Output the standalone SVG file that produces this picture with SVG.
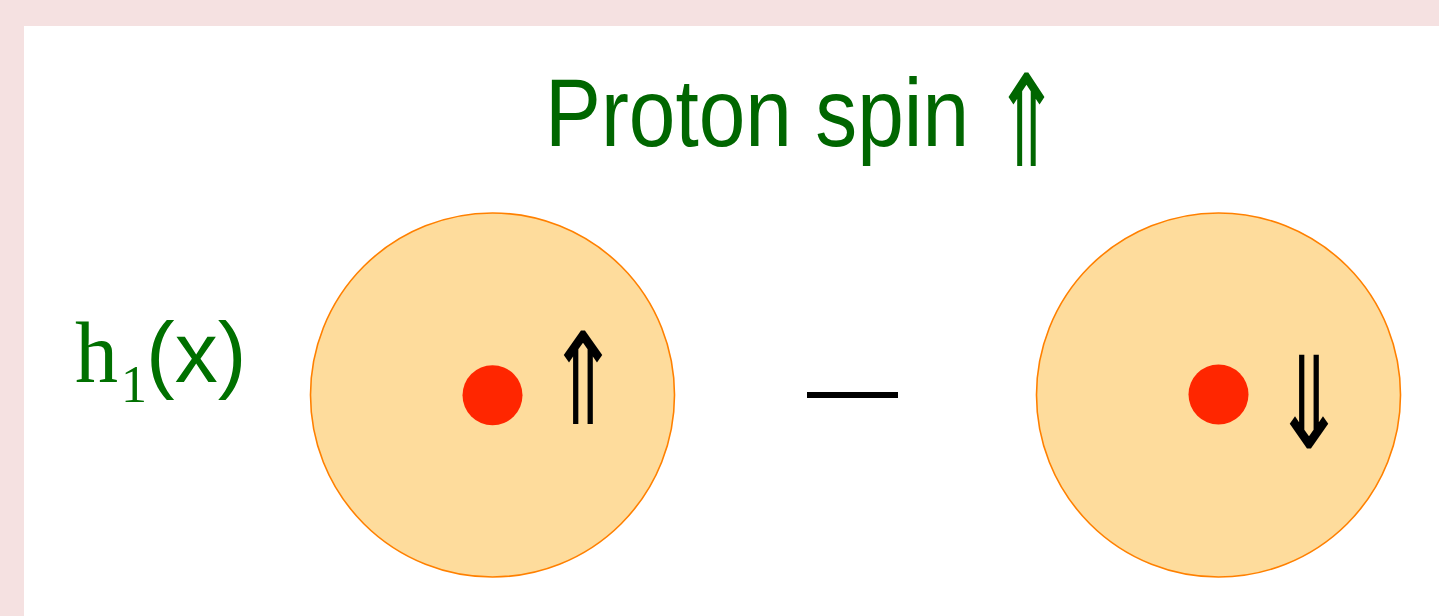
<svg xmlns="http://www.w3.org/2000/svg" width="1439" height="616" viewBox="0 0 1439 616">
<style>
.disk{fill:#FEDC9C;stroke:#FF8000;stroke-width:1.6}
.dot{fill:#FF2600}
.title{font-family:"Liberation Sans",Arial,sans-serif;font-size:96px;fill:#006600}
.arrow{font-family:"DejaVu Sans",sans-serif;text-anchor:middle}
.lbl{fill:#007000}
</style>
<rect x="0" y="0" width="1439" height="616" fill="#F5E1E1"/>
<rect x="24" y="26" width="1415" height="590" fill="#FFFFFF"/>
<g id="title">
<text class="title" x="545" y="146" textLength="424" lengthAdjust="spacingAndGlyphs">Proton spin</text>
<text class="arrow" x="0" y="0" font-size="84" fill="#006600" transform="translate(1026.5 166) scale(1 1.52)">⇑</text>
</g>
<g id="label">
<text class="lbl" x="75" y="382" font-family="Liberation Serif,serif" font-size="86">h</text>
<text class="lbl" x="121" y="402" font-family="Liberation Serif,serif" font-size="52">1</text>
<text class="lbl" x="146" y="382" font-family="Liberation Sans,Arial,sans-serif" font-size="86">(x)</text>
</g>
<g id="left-disk">
<circle class="disk" cx="492.5" cy="395" r="182"/>
<circle class="dot" cx="492.5" cy="395.3" r="30"/>
<text class="arrow" x="0" y="0" font-size="90" fill="#000" transform="translate(583 424) scale(1 1.42)">⇑</text>
</g>
<g id="minus">
<rect x="807" y="392" width="91" height="6" fill="#000"/>
</g>
<g id="right-disk">
<circle class="disk" cx="1218.5" cy="395" r="182"/>
<circle class="dot" cx="1218.5" cy="394.5" r="30"/>
<text class="arrow" x="0" y="0" font-size="90" fill="#000" transform="translate(1309 448) scale(1 1.42)">⇓</text>
</g>
<g id="connectors"/>
</svg>
